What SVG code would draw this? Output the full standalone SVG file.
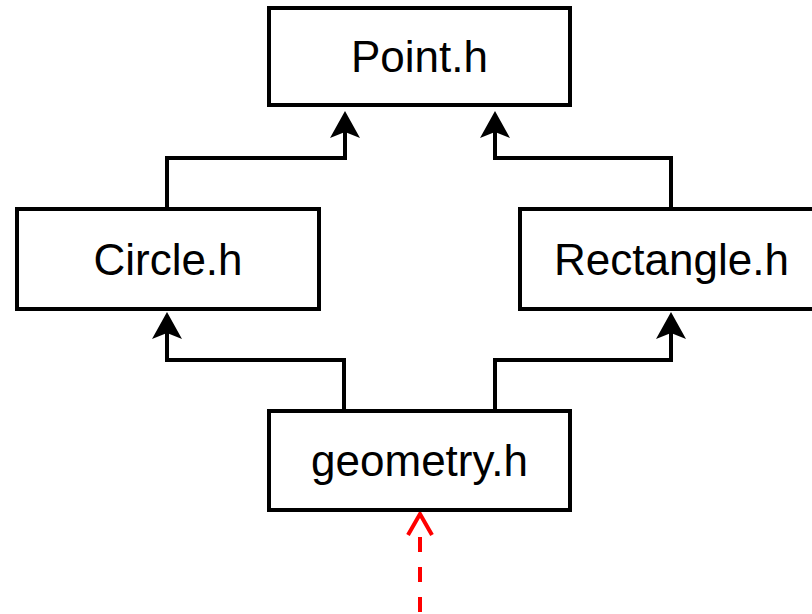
<svg xmlns="http://www.w3.org/2000/svg" width="812" height="614" viewBox="0 0 812 614">
  <style>
    .box { fill: #ffffff; stroke: #000000; stroke-width: 4; }
    .lbl { font-family: "Liberation Sans", Arial, sans-serif; font-size: 44px; fill: #000000; text-anchor: middle; }
    .edge { fill: none; stroke: #000000; stroke-width: 4; }
    .dep { fill: none; stroke: #ff0000; stroke-width: 4; stroke-dasharray: 15 15; }
    .open { fill: none; stroke: #ff0000; stroke-width: 4; }
  </style>
  <defs>
    <marker id="arrow" markerUnits="userSpaceOnUse" viewBox="0 -15 27 30" markerWidth="27" markerHeight="30" refX="6" refY="0" orient="auto">
      <path d="M0,-15 L27,0 L0,15 L6,0 Z" fill="#000000"/>
    </marker>
  </defs>
  <rect width="812" height="614" fill="#ffffff"/>
  <g id="connectors">
    <path class="edge" d="M167,209 V158 H345 V132" marker-end="url(#arrow)"/>
    <path class="edge" d="M671,209 V158 H495 V132" marker-end="url(#arrow)"/>
    <path class="edge" d="M344,411 V360 H167 V333" marker-end="url(#arrow)"/>
    <path class="edge" d="M495,411 V360 H671 V333" marker-end="url(#arrow)"/>
    <path class="dep" d="M420,612 V537"/>
    <path class="open" d="M408,535 L420,514 L432,535"/>
  </g>
  <g id="point">
    <rect class="box" x="269" y="8" width="301" height="97"/>
    <text class="lbl" x="419.5" y="72">Point.h</text>
  </g>
  <g id="circle">
    <rect class="box" x="17" y="209" width="302" height="100"/>
    <text class="lbl" x="168" y="275">Circle.h</text>
  </g>
  <g id="rectangle">
    <rect class="box" x="520" y="209" width="302" height="100"/>
    <text class="lbl" x="671.5" y="274.5">Rectangle.h</text>
  </g>
  <g id="geometry">
    <rect class="box" x="269" y="411" width="301" height="99"/>
    <text class="lbl" x="419.5" y="475.5">geometry.h</text>
  </g>
</svg>
